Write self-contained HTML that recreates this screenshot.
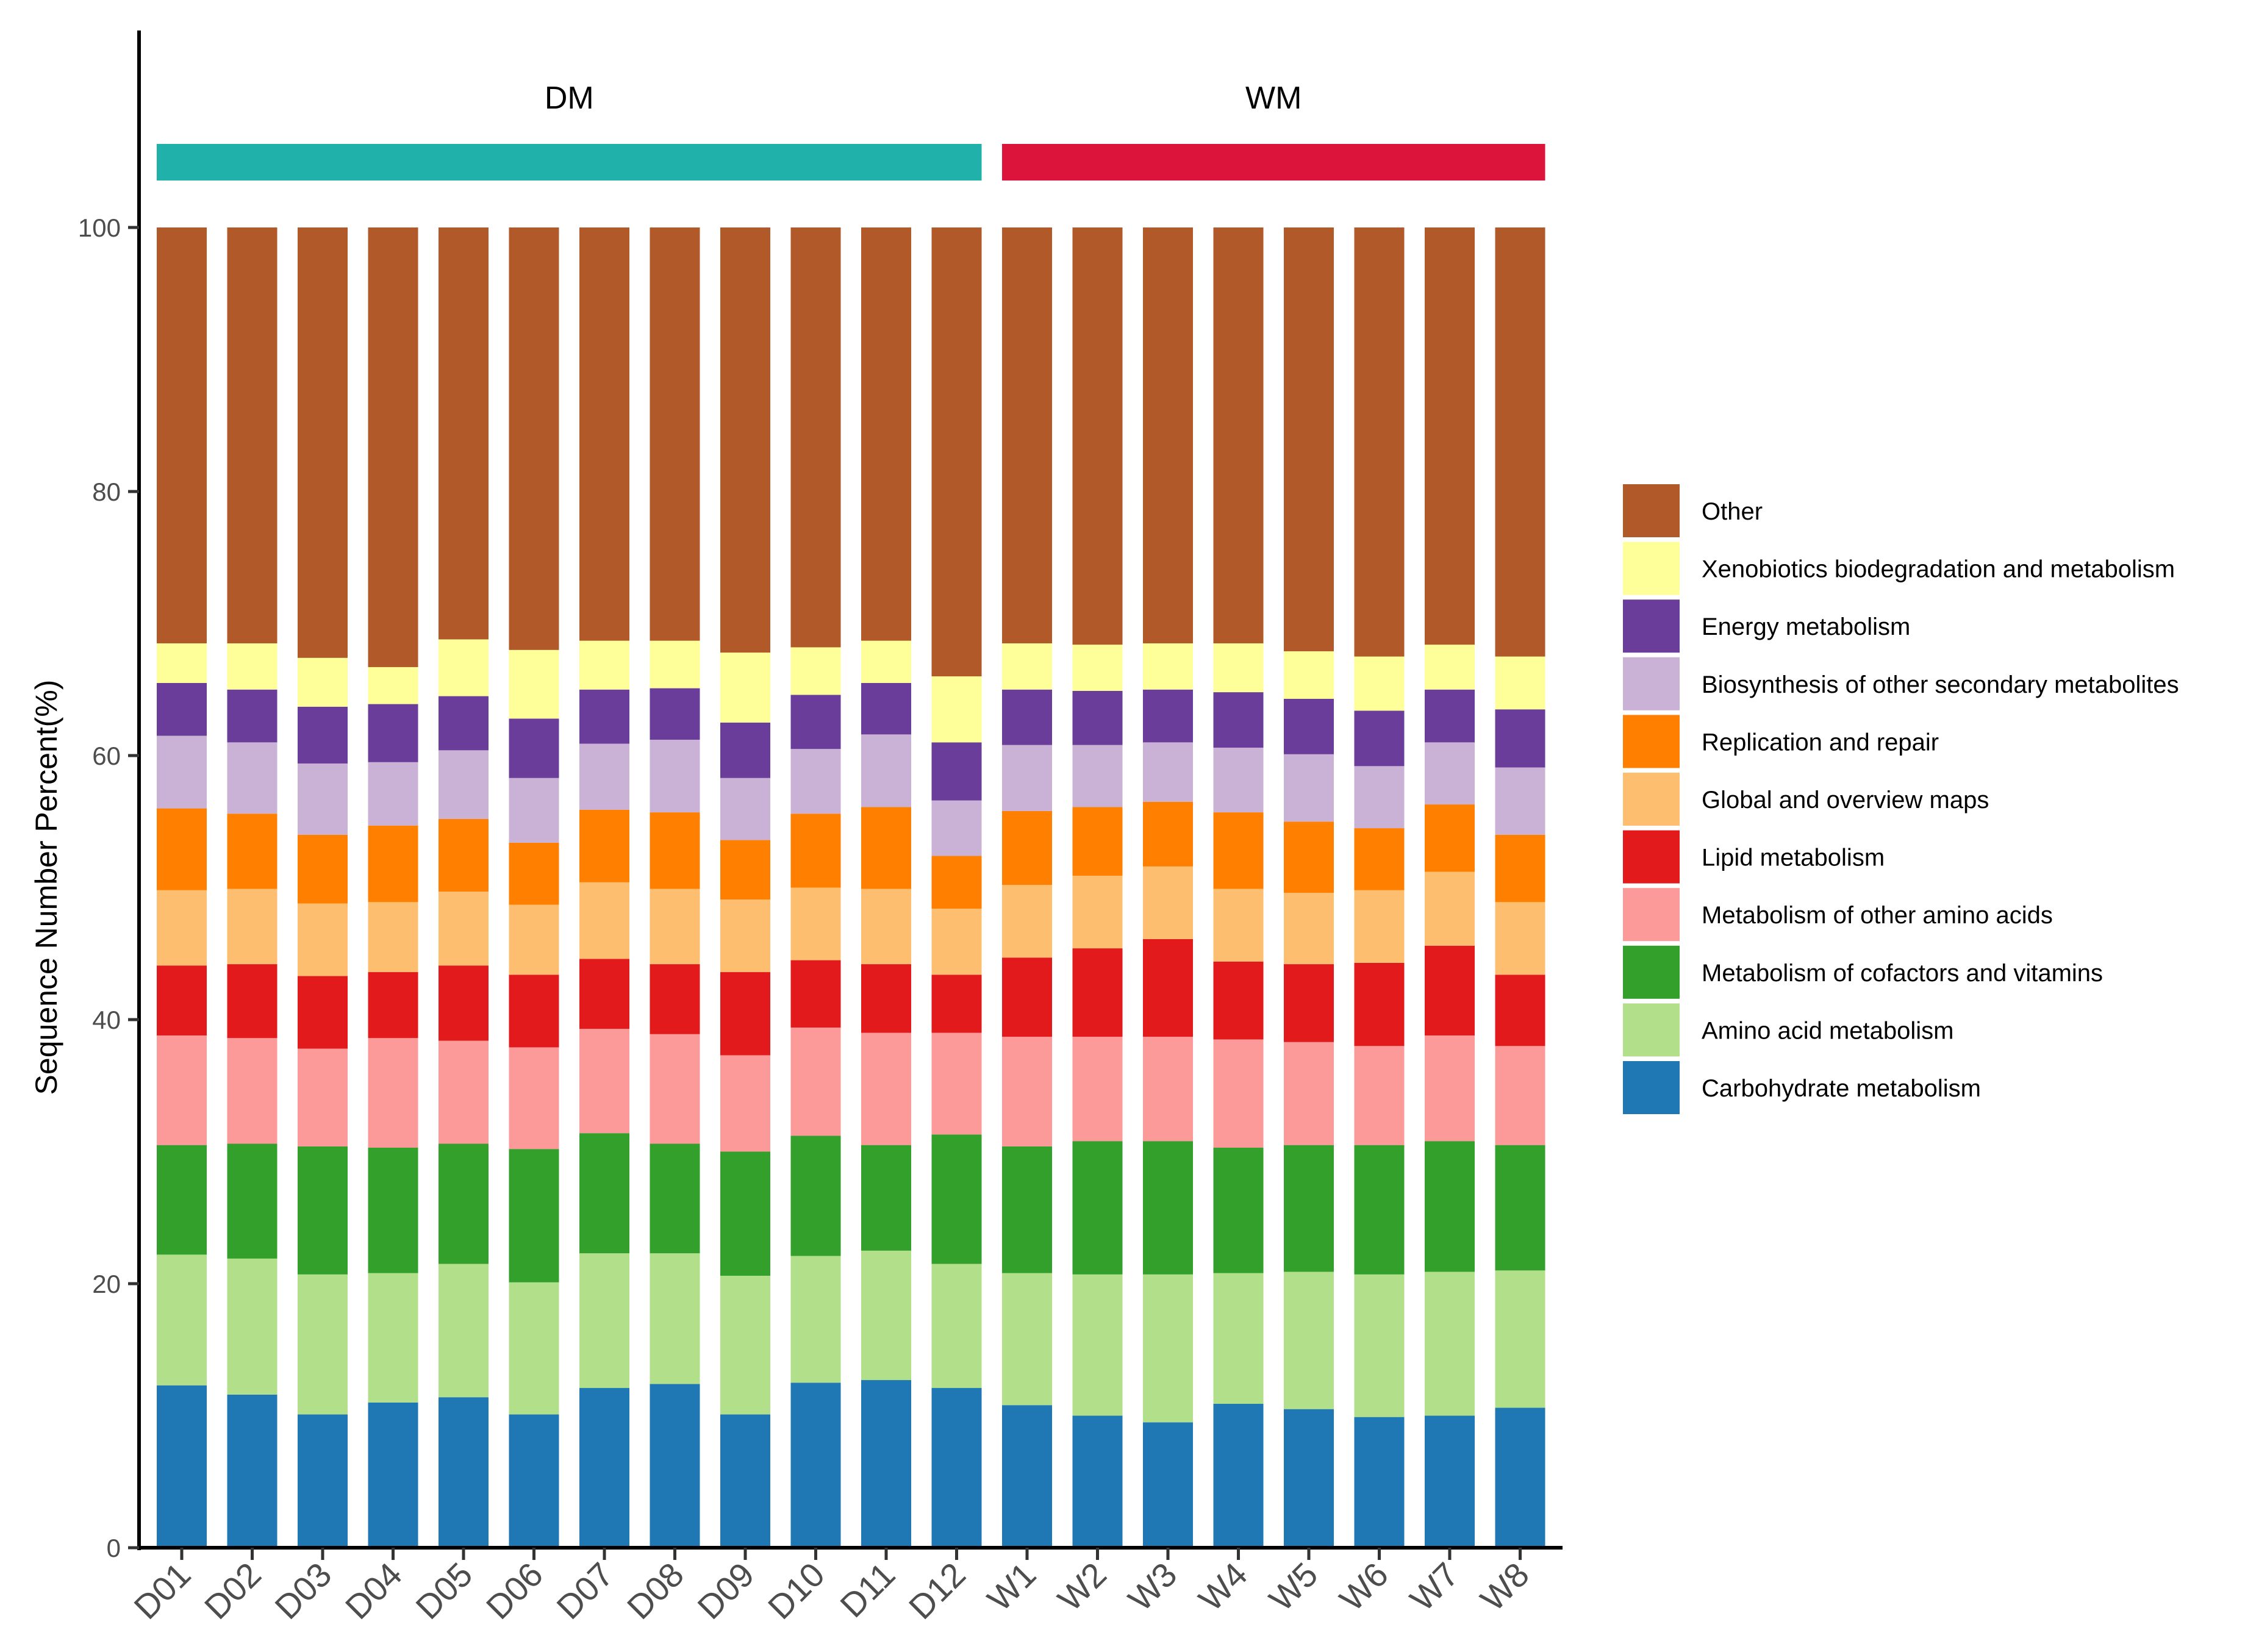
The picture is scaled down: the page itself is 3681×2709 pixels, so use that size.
<!DOCTYPE html>
<html><head><meta charset="utf-8"><style>
html,body{margin:0;padding:0;background:#fff;}
svg{display:block;font-family:"Liberation Sans",Arial,sans-serif;}
</style></head><body>
<svg id="chart" width="3681" height="2709" viewBox="0 0 3681 2709" xmlns="http://www.w3.org/2000/svg">
<rect width="3681" height="2709" fill="#fff"/>
<g id="bars"></g>
<g id="axes"></g>
<g id="groups"></g>
<g id="legend"></g>
<text transform="translate(93,1455) rotate(-90)" text-anchor="middle" font-size="50" fill="#000">Sequence Number Percent(%)</text>
</svg>
<script>
const categories = ["D01","D02","D03","D04","D05","D06","D07","D08","D09","D10","D11","D12","W1","W2","W3","W4","W5","W6","W7","W8"];
const seriesNames = ["Carbohydrate metabolism","Amino acid metabolism","Metabolism of cofactors and vitamins","Metabolism of other amino acids","Lipid metabolism","Global and overview maps","Replication and repair","Biosynthesis of other secondary metabolites","Energy metabolism","Xenobiotics biodegradation and metabolism","Other"];
const seriesColors = ["#1f78b4","#b2df8a","#33a02c","#fb9a99","#e31a1c","#fdbf6f","#ff7f00","#cab2d6","#6a3d9a","#ffff99","#b15928"];
// cumulative stack tops (%) per series; Other fills to 100
const topCarb   = [12.3,11.6,10.1,11.0,11.4,10.1,12.1,12.4,10.1,12.5,12.7,12.1,10.8,10.0,9.5,10.9,10.5,9.9,10.0,10.6];
const topAmino  = [22.2,21.9,20.7,20.8,21.5,20.1,22.3,22.3,20.6,22.1,22.5,21.5,20.8,20.7,20.7,20.8,20.9,20.7,20.9,21.0];
const topCof    = [30.5,30.6,30.4,30.3,30.6,30.2,31.4,30.6,30.0,31.2,30.5,31.3,30.4,30.8,30.8,30.3,30.5,30.5,30.8,30.5];
const topOthAA  = [38.8,38.6,37.8,38.6,38.4,37.9,39.3,38.9,37.3,39.4,39.0,39.0,38.7,38.7,38.7,38.5,38.3,38.0,38.8,38.0];
const topLipid  = [44.1,44.2,43.3,43.6,44.1,43.4,44.6,44.2,43.6,44.5,44.2,43.4,44.7,45.4,46.1,44.4,44.2,44.3,45.6,43.4];
const topGlobal = [49.8,49.9,48.8,48.9,49.7,48.7,50.4,49.9,49.1,50.0,49.9,48.4,50.2,50.9,51.6,49.9,49.6,49.8,51.2,48.9];
const topRepl   = [56.0,55.6,54.0,54.7,55.2,53.4,55.9,55.7,53.6,55.6,56.1,52.4,55.8,56.1,56.5,55.7,55.0,54.5,56.3,54.0];
const topBios   = [61.5,61.0,59.4,59.5,60.4,58.3,60.9,61.2,58.3,60.5,61.6,56.6,60.8,60.8,61.0,60.6,60.1,59.2,61.0,59.1];
const topEnergy = [65.5,65.0,63.7,63.9,64.5,62.8,65.0,65.1,62.5,64.6,65.5,61.0,65.0,64.9,65.0,64.8,64.3,63.4,65.0,63.5];
const topXeno   = [68.5,68.5,67.4,66.7,68.8,68.0,68.7,68.7,67.8,68.2,68.7,66.0,68.5,68.4,68.5,68.5,67.9,67.5,68.4,67.5];
const yTicks = [0,20,40,60,80,100];
const groupNames = ["DM","WM"];
const groupStart = [0,12];
const groupEnd = [11,19];
const groupColors = ["#20b2aa","#dc143c"];

const NS="http://www.w3.org/2000/svg";
const X0=228, Y0=2538, Y100=373, STEP=115.5, FIRST=298, BW=82;
const yS=v=>Y0-(Y0-Y100)*v/100;
const xS=i=>FIRST+i*STEP;
function mk(tag,attrs,parent){const e=document.createElementNS(NS,tag);for(const k in attrs)e.setAttribute(k,attrs[k]);parent.appendChild(e);return e;}
const tops=[topCarb,topAmino,topCof,topOthAA,topLipid,topGlobal,topRepl,topBios,topEnergy,topXeno];
const bars=document.getElementById('bars');
categories.forEach((c,i)=>{
  let prev=0;
  for(let s=0;s<seriesNames.length;s++){
    const t = s<tops.length ? tops[s][i] : 100;
    const r=mk('rect',{x:xS(i)-BW/2,y:yS(t),width:BW,height:yS(prev)-yS(t),fill:seriesColors[s]},bars);
    
    
    prev=t;
  }
});
const ax=document.getElementById('axes');
let l=mk('line',{x1:X0,y1:50,x2:X0,y2:Y0+4,stroke:'#000','stroke-width':6},ax);


l=mk('line',{x1:X0-3,y1:Y0,x2:2562,y2:Y0,stroke:'#000','stroke-width':6},ax);


yTicks.forEach(v=>{
  const tk=mk('line',{x1:X0-18,y1:yS(v),x2:X0,y2:yS(v),stroke:'#333','stroke-width':5},ax);
  
  
  const t=mk('text',{x:X0-30,y:yS(v)+15,'text-anchor':'end','font-size':42,fill:'#4d4d4d'},ax);
  t.textContent=v;
  
  
});
categories.forEach((c,i)=>{
  const tk=mk('line',{x1:xS(i),y1:Y0,x2:xS(i),y2:Y0+20,stroke:'#333','stroke-width':5},ax);
  
  
  const t=mk('text',{transform:`translate(${xS(i)+18},${Y0+48}) rotate(-45)`,'text-anchor':'end','font-size':56,fill:'#4d4d4d'},ax);
  t.textContent=c;
  
  
});
const gg=document.getElementById('groups');
groupNames.forEach((g,k)=>{
  const x1=xS(groupStart[k])-BW/2, x2=xS(groupEnd[k])+BW/2;
  const r=mk('rect',{x:x1,y:236,width:x2-x1,height:60,fill:groupColors[k]},gg);
  
  
  const t=mk('text',{x:(x1+x2)/2,y:178,'text-anchor':'middle','font-size':52,fill:'#000'},gg);
  t.textContent=g;
  
  
});
const lg=document.getElementById('legend');
for(let j=0;j<seriesNames.length;j++){
  const s=seriesNames.length-1-j;
  const y=794+j*94.6;
  const r=mk('rect',{x:2661,y:y,width:93,height:87,fill:seriesColors[s]},lg);
  
  
  const t=mk('text',{x:2790,y:y+58,'font-size':40,fill:'#000'},lg);
  t.textContent=seriesNames[s];
  
  
}
</script>
</body></html>
